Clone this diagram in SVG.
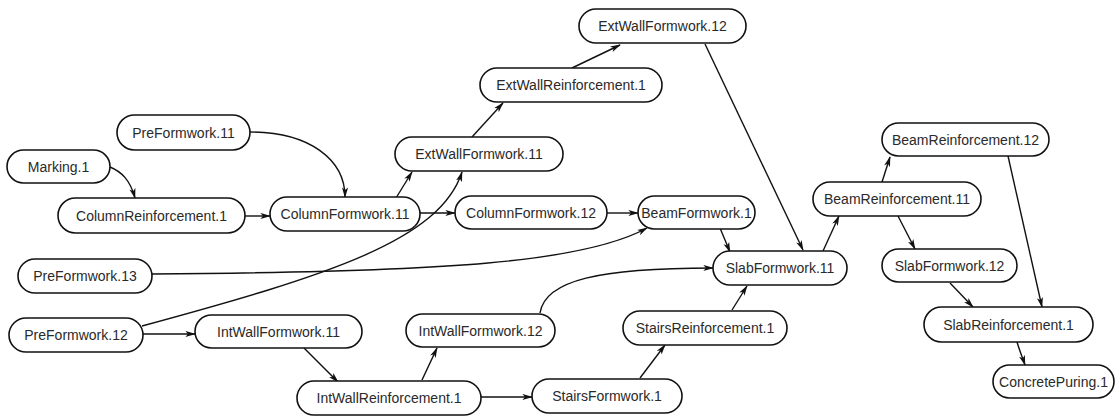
<svg xmlns="http://www.w3.org/2000/svg" width="1117" height="416" viewBox="0 0 1117 416">
<style>
.n rect{fill:#fff;stroke:#111;stroke-width:1.6}
.n text{font-family:"Liberation Sans",Arial,sans-serif;font-size:14px;fill:#2a2a2a;text-anchor:middle;dominant-baseline:central}
#edges path{fill:none;stroke:#111;stroke-width:1.4;marker-end:url(#ah)}
</style>
<defs>
<marker id="ah" viewBox="0 0 12 8" refX="11" refY="4" markerWidth="11" markerHeight="7" markerUnits="userSpaceOnUse" orient="auto">
<path d="M0,0.5 L12,4 L0,7.5 L3,4 Z" fill="#111"/>
</marker>
</defs>
<rect width="1117" height="416" fill="#fff"/>
<g id="edges">
<path d="M110,167 C122,172 130,180 135,198"/>
<path d="M250,132 C310,132 345,160 345,197"/>
<path d="M245,216 L270,216"/>
<path d="M420,213 L455,213"/>
<path d="M607,213 L638,213"/>
<path d="M396,198 L412,172"/>
<path d="M142,326 C330,275 440,240 462,172"/>
<path d="M152,274 C450,272 585,262 647,228"/>
<path d="M540,313 C545,280 600,268 713,268"/>
<path d="M720,228 L730,252"/>
<path d="M705,44 L803,250"/>
<path d="M823,251 L839,216"/>
<path d="M882,182 L890,157"/>
<path d="M898,216 L915,249"/>
<path d="M1008,156 L1042,307"/>
<path d="M950,283 L973,307"/>
<path d="M1017,342 C1020,352 1022,356 1025,365"/>
<path d="M732,310 L747,286"/>
<path d="M640,378 L665,345"/>
<path d="M481,397 L532,397"/>
<path d="M422,380 L437,348"/>
<path d="M304,348 L338,382"/>
<path d="M143,334 L195,334"/>
<path d="M472,137 L503,103"/>
<path d="M572,68 L620,45"/>
</g>
<g id="Marking.1" class="n"><rect x="7" y="150" width="103" height="33" rx="16.5"/><text x="58.5" y="166.5">Marking.1</text></g>
<g id="PreFormwork.11" class="n"><rect x="117" y="115" width="133" height="35" rx="17.5"/><text x="183.5" y="132.5">PreFormwork.11</text></g>
<g id="ColumnReinforcement.1" class="n"><rect x="58" y="198" width="187" height="35" rx="17.5"/><text x="151.5" y="215.5">ColumnReinforcement.1</text></g>
<g id="ColumnFormwork.11" class="n"><rect x="270" y="197" width="150" height="34" rx="17"/><text x="345" y="214">ColumnFormwork.11</text></g>
<g id="ColumnFormwork.12" class="n"><rect x="455" y="196" width="152" height="33" rx="16.5"/><text x="531" y="212.5">ColumnFormwork.12</text></g>
<g id="BeamFormwork.1" class="n"><rect x="638" y="196" width="117" height="33" rx="16.5"/><text x="696.5" y="212.5">BeamFormwork.1</text></g>
<g id="ExtWallFormwork.11" class="n"><rect x="395" y="137" width="168" height="34" rx="17"/><text x="479" y="154">ExtWallFormwork.11</text></g>
<g id="ExtWallReinforcement.1" class="n"><rect x="480" y="68" width="182" height="34" rx="17"/><text x="571" y="85">ExtWallReinforcement.1</text></g>
<g id="ExtWallFormwork.12" class="n"><rect x="579" y="9" width="167" height="34" rx="17"/><text x="662.5" y="26">ExtWallFormwork.12</text></g>
<g id="BeamReinforcement.12" class="n"><rect x="882" y="123" width="167" height="33" rx="16.5"/><text x="965.5" y="139.5">BeamReinforcement.12</text></g>
<g id="BeamReinforcement.11" class="n"><rect x="813" y="182" width="168" height="34" rx="17"/><text x="897" y="199">BeamReinforcement.11</text></g>
<g id="SlabFormwork.11" class="n"><rect x="713" y="251" width="134" height="34" rx="17"/><text x="780" y="268">SlabFormwork.11</text></g>
<g id="SlabFormwork.12" class="n"><rect x="882" y="249" width="135" height="33" rx="16.5"/><text x="949.5" y="265.5">SlabFormwork.12</text></g>
<g id="SlabReinforcement.1" class="n"><rect x="924" y="307" width="169" height="35" rx="17.5"/><text x="1008.5" y="324.5">SlabReinforcement.1</text></g>
<g id="ConcretePuring.1" class="n"><rect x="993" y="365" width="121" height="33" rx="16.5"/><text x="1053.5" y="381.5">ConcretePuring.1</text></g>
<g id="StairsReinforcement.1" class="n"><rect x="623" y="311" width="164" height="34" rx="17"/><text x="705" y="328">StairsReinforcement.1</text></g>
<g id="StairsFormwork.1" class="n"><rect x="532" y="379" width="150" height="34" rx="17"/><text x="607" y="396">StairsFormwork.1</text></g>
<g id="IntWallFormwork.12" class="n"><rect x="406" y="314" width="149" height="33" rx="16.5"/><text x="480.5" y="330.5">IntWallFormwork.12</text></g>
<g id="IntWallReinforcement.1" class="n"><rect x="297" y="381" width="184" height="34" rx="17"/><text x="389" y="398">IntWallReinforcement.1</text></g>
<g id="IntWallFormwork.11" class="n"><rect x="195" y="315" width="167" height="33" rx="16.5"/><text x="278.5" y="331.5">IntWallFormwork.11</text></g>
<g id="PreFormwork.12" class="n"><rect x="9" y="318" width="134" height="34" rx="17"/><text x="76" y="335">PreFormwork.12</text></g>
<g id="PreFormwork.13" class="n"><rect x="18" y="259" width="134" height="34" rx="17"/><text x="85" y="276">PreFormwork.13</text></g>
</svg>
